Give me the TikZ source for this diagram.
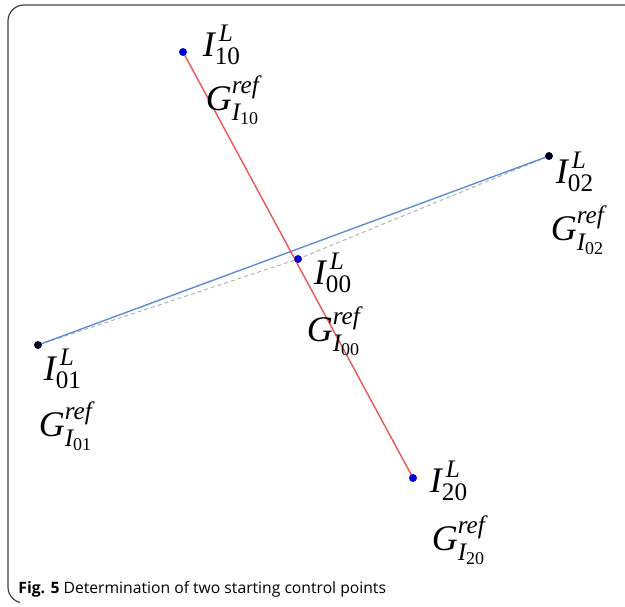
\documentclass[tikz,border=0pt]{standalone}
\usepackage{amsmath}
\usepackage{fontspec}
\setmainfont{Liberation Serif}
\newfontfamily\capfont{Open Sans}
\newcommand{\lblI}[1]{$\textit{I}^{\,\textit{L}}_{\textrm{#1}}$}
\newcommand{\lblG}[1]{$\textit{G}^{\textit{ref}}_{\textit{I}_{\textrm{#1}}}$}
\begin{document}
\begin{tikzpicture}[x=0.5pt,y=-0.5pt,
  lbl/.style={inner sep=0pt,font=\fontsize{18}{21}\selectfont},
  bdot/.style={circle,fill=blue!85!black,inner sep=0pt,minimum size=3.8pt},
  kdot/.style={circle,fill=black!85!blue,inner sep=0pt,minimum size=3.8pt},
  redline/.style={draw={rgb,255:red,235;green,85;blue,85},line width=0.7pt},
  blueline/.style={draw={rgb,255:red,95;green,140;blue,215},line width=0.7pt},
  grayline/.style={draw=black!30,dashed,dash pattern=on 2pt off 1.5pt,line width=0.5pt}]
\useasboundingbox (0,0) rectangle (625,606);
% frame
\draw[black!75,line width=0.6pt,rounded corners=8pt] (625,5) -- (8,5) -- (8,603) -- (25,603);
\fill[white] (20,598) rectangle (30,606);
% points
\node[bdot] (i10) at (183,52) {};
\node[bdot] (i00) at (298,259) {};
\node[bdot] (i20) at (413,478) {};
\node[kdot] (i01) at (38,345) {};
\node[kdot] (i02) at (549,156) {};
% lines
\draw[grayline] (i01.center) -- (i00.center) -- (i02.center);
\draw[blueline] (i01.center) -- (i02.center);
\draw[redline] (i10.center) -- (i20.center);
\node[bdot] at (i10) {};
\node[bdot] at (i00) {};
\node[bdot] at (i20) {};
\node[kdot] at (i01) {};
\node[kdot] at (i02) {};
% labels
\node[lbl] (l10) at (222,45) {\lblI{10}};
\node[lbl] (g10) at (233,100) {\lblG{10}};
\node[lbl] (l00) at (333,273) {\lblI{00}};
\node[lbl] (g00) at (334,331) {\lblG{00}};
\node[lbl] (l01) at (63,369) {\lblI{01}};
\node[lbl] (g01) at (66,426) {\lblG{01}};
\node[lbl] (l02) at (575,172) {\lblI{02}};
\node[lbl] (g02) at (578,230) {\lblG{02}};
\node[lbl] (l20) at (449,481) {\lblI{20}};
\node[lbl] (g20) at (459,540) {\lblG{20}};
% caption
\node[anchor=west,inner sep=0pt,font=\capfont\fontsize{7.85}{9}\selectfont] (cap) at (18,589)
  {\textbf{Fig. 5} Determination of two starting control points};
\end{tikzpicture}
\end{document}
